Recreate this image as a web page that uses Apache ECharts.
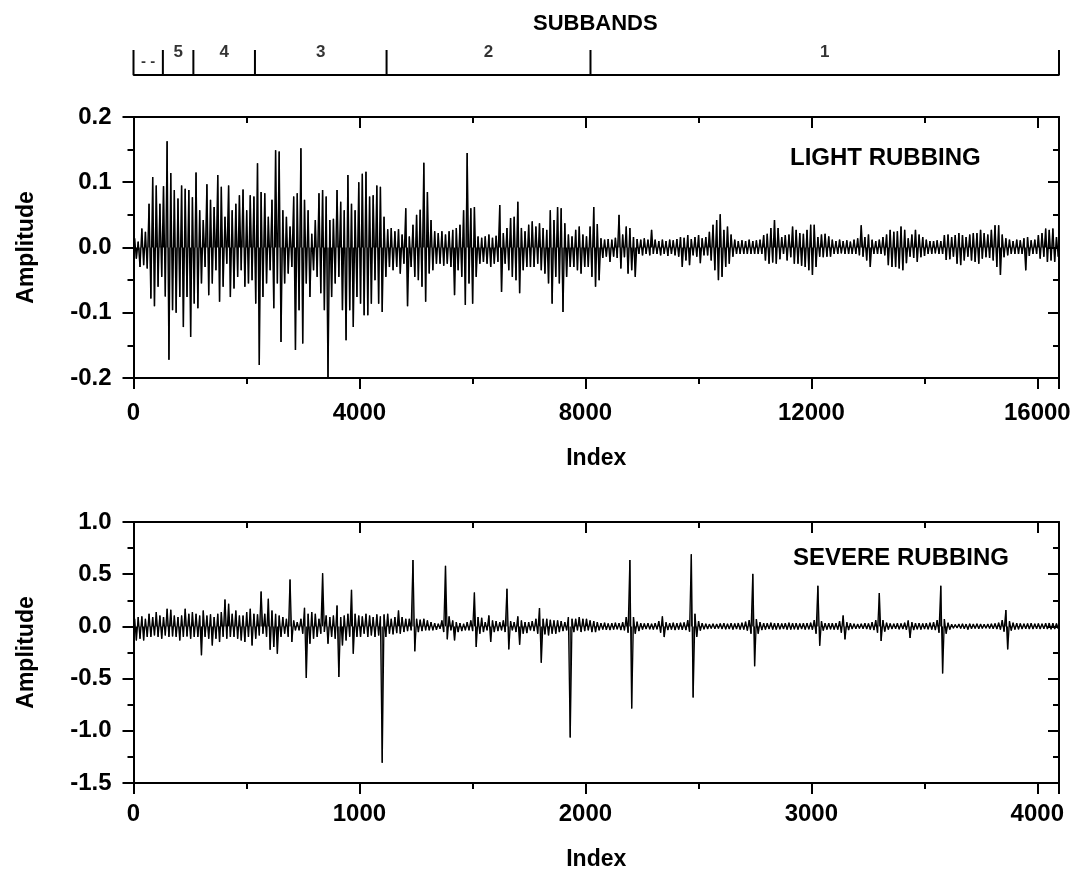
<!DOCTYPE html>
<html>
<head>
<meta charset="utf-8">
<script src="https://cdn.jsdelivr.net/npm/echarts@6/dist/echarts.min.js"></script>
<style>
html,body{margin:0;padding:0;background:#fff;}
#chart{width:1074px;height:876px;}
</style>
</head>
<body>
<div id="chart"></div>
<script>
// ---------- data ----------
const subbandEdges = [0, 520, 1060, 2150, 4480, 8090, 16384];
const subbandNames = ['- -', '5', '4', '3', '2', '1'];

const upperXTicks = [0, 4000, 8000, 12000, 16000];
const lowerXTicks = [0, 1000, 2000, 3000, 4000];

// light rubbing: per-bin (64 samples) upper / lower envelope
const lightMax = [
0.014,0.009,0.029,0.024,0.067,0.108,0.095,0.067,0.094,0.163,
0.114,0.088,0.075,0.095,0.09,0.088,0.077,0.115,0.057,0.042,
0.097,0.073,0.062,0.111,0.093,0.047,0.095,0.057,0.067,0.08,
0.089,0.057,0.08,0.078,0.129,0.085,0.083,0.047,0.073,0.149,
0.147,0.057,0.047,0.032,0.078,0.083,0.152,0.073,0.057,0.021,
0.042,0.083,0.088,0.078,0.042,0.044,0.088,0.07,0.057,0.111,
0.067,0.057,0.1,0.113,
0.116,0.078,0.08,0.095,0.093,0.047,0.028,0.03,0.025,0.028,
0.02,0.06,0.017,0.035,0.05,0.058,0.13,0.085,0.042,0.025,
0.022,0.025,0.02,0.025,0.027,0.03,0.035,0.057,0.145,0.06,
0.062,0.017,0.015,0.017,0.02,0.015,0.018,0.065,0.022,0.03,
0.045,0.047,0.07,0.03,0.025,0.035,0.04,0.032,0.037,0.03,
0.027,0.057,0.042,0.062,0.06,0.037,0.02,0.017,0.027,0.032,
0.02,0.017,0.032,0.062,
0.036,0.014,0.012,0.013,0.012,0.015,0.05,0.02,0.032,0.03,
0.016,0.013,0.012,0.014,0.012,0.027,0.012,0.01,0.012,0.01,
0.012,0.011,0.013,0.016,0.015,0.019,0.013,0.016,0.019,0.014,
0.016,0.024,0.035,0.042,0.051,0.027,0.032,0.02,0.012,0.01,
0.011,0.01,0.012,0.01,0.011,0.012,0.019,0.021,0.03,0.042,
0.03,0.016,0.019,0.02,0.032,0.027,0.022,0.021,0.027,0.035,
0.035,0.016,0.02,0.021,0.017,
0.012,0.01,0.012,0.01,0.011,0.009,0.012,0.014,0.034,0.016,
0.02,0.012,0.01,0.012,0.016,0.02,0.027,0.024,0.025,0.032,
0.027,0.014,0.02,0.027,0.02,0.016,0.012,0.01,0.01,0.011,
0.01,0.019,0.02,0.016,0.019,0.022,0.019,0.016,0.02,0.022,
0.022,0.027,0.022,0.02,0.027,0.034,0.034,0.02,0.014,0.012,
0.01,0.012,0.011,0.014,0.016,0.011,0.012,0.019,0.022,0.029,
0.027,0.029,0.016
];
const lightMin = [
-0.017,-0.03,-0.027,-0.032,-0.078,-0.09,-0.06,-0.045,-0.075,-0.172,
-0.096,-0.1,-0.076,-0.122,-0.076,-0.137,-0.086,-0.093,-0.055,-0.03,
-0.073,-0.055,-0.035,-0.083,-0.06,-0.025,-0.076,-0.063,-0.045,-0.035,
-0.06,-0.055,-0.05,-0.086,-0.18,-0.076,-0.055,-0.035,-0.093,-0.055,
-0.145,-0.055,-0.04,-0.03,-0.157,-0.096,-0.147,-0.055,-0.076,-0.035,
-0.045,-0.07,-0.096,-0.2,-0.076,-0.055,-0.045,-0.096,-0.142,-0.096,
-0.122,-0.076,-0.086,-0.104,
-0.104,-0.086,-0.05,-0.086,-0.099,-0.045,-0.03,-0.035,-0.03,-0.04,
-0.025,-0.09,-0.03,-0.045,-0.05,-0.06,-0.083,-0.04,-0.035,-0.025,
-0.025,-0.028,-0.025,-0.03,-0.073,-0.035,-0.045,-0.088,-0.055,-0.086,
-0.045,-0.025,-0.022,-0.025,-0.03,-0.025,-0.022,-0.068,-0.025,-0.035,
-0.045,-0.05,-0.07,-0.035,-0.03,-0.03,-0.03,-0.025,-0.035,-0.04,
-0.055,-0.086,-0.045,-0.055,-0.099,-0.045,-0.03,-0.03,-0.035,-0.04,
-0.03,-0.03,-0.045,-0.06,
-0.05,-0.016,-0.014,-0.022,-0.014,-0.016,-0.032,-0.015,-0.04,-0.035,
-0.045,-0.01,-0.012,-0.01,-0.012,-0.01,-0.01,-0.012,-0.01,-0.013,
-0.01,-0.012,-0.014,-0.03,-0.02,-0.027,-0.012,-0.014,-0.024,-0.012,
-0.012,-0.02,-0.035,-0.05,-0.045,-0.03,-0.025,-0.014,-0.01,-0.01,
-0.01,-0.01,-0.01,-0.01,-0.01,-0.01,-0.02,-0.025,-0.023,-0.025,
-0.018,-0.01,-0.02,-0.015,-0.025,-0.025,-0.028,-0.03,-0.035,-0.042,
-0.03,-0.014,-0.015,-0.014,-0.014,
-0.01,-0.01,-0.009,-0.01,-0.01,-0.01,-0.01,-0.012,-0.014,-0.02,
-0.03,-0.01,-0.01,-0.01,-0.012,-0.027,-0.03,-0.03,-0.032,-0.035,
-0.024,-0.014,-0.016,-0.022,-0.015,-0.013,-0.01,-0.01,-0.009,-0.01,
-0.01,-0.019,-0.018,-0.014,-0.025,-0.027,-0.02,-0.014,-0.02,-0.022,
-0.025,-0.017,-0.015,-0.016,-0.02,-0.03,-0.042,-0.015,-0.012,-0.01,
-0.01,-0.01,-0.01,-0.035,-0.013,-0.01,-0.01,-0.017,-0.014,-0.022,
-0.02,-0.022,-0.014
];

// severe rubbing: per-bin (16 samples) upper / lower envelope
const severeMax = [
0.073,0.09,0.096,0.073,0.12,0.09,0.137,0.105,0.09,0.169,
0.16,0.105,0.09,0.105,0.169,0.12,0.137,0.12,0.105,0.153,
0.105,0.115,0.09,0.12,0.137,0.258,0.217,0.12,0.153,0.105,
0.105,0.137,0.169,0.12,0.115,0.335,0.12,0.264,0.153,0.12,
0.105,0.09,0.073,0.449,0.057,0.041,0.073,0.178,0.12,0.137,
0.12,0.073,0.51,0.105,0.09,0.105,0.2,0.09,0.105,0.12,
0.35,0.12,0.105,0.096,
0.121,0.105,0.089,0.115,0.096,0.115,0.121,0.073,0.089,0.153,
0.089,0.073,0.073,0.637,0.073,0.064,0.073,0.057,0.041,0.032,
0.025,0.057,0.58,0.096,0.057,0.041,0.032,0.025,0.041,0.057,
0.325,0.089,0.083,0.041,0.105,0.057,0.051,0.041,0.057,0.36,
0.051,0.041,0.096,0.057,0.041,0.041,0.051,0.073,0.175,0.073,
0.073,0.064,0.057,0.057,0.051,0.041,0.089,0.073,0.073,0.089,
0.073,0.073,0.057,0.051,
0.041,0.032,0.035,0.028,0.03,0.035,0.032,0.04,0.09,0.637,
0.09,0.045,0.03,0.028,0.03,0.025,0.032,0.05,0.096,0.04,
0.032,0.035,0.03,0.035,0.038,0.06,0.69,0.12,0.05,0.03,
0.025,0.022,0.025,0.022,0.028,0.03,0.025,0.03,0.028,0.032,
0.035,0.045,0.06,0.503,0.07,0.04,0.032,0.03,0.035,0.03,
0.032,0.028,0.03,0.035,0.03,0.032,0.028,0.03,0.032,0.035,
0.06,0.389,0.05,0.03,0.032,0.03,
0.03,0.05,0.105,0.04,0.03,0.025,0.022,0.025,0.03,0.028,
0.04,0.06,0.32,0.06,0.035,0.028,0.025,0.03,0.028,0.035,
0.057,0.04,0.03,0.032,0.028,0.03,0.035,0.04,0.06,0.39,
0.07,0.035,0.02,0.018,0.022,0.025,0.022,0.025,0.022,0.025,
0.022,0.02,0.022,0.025,0.028,0.035,0.06,0.156,0.05,0.035,
0.03,0.028,0.025,0.028,0.03,0.025,0.028,0.025,0.03,0.032,0.03,0.028
];
const severeMin = [
-0.134,-0.118,-0.134,-0.1,-0.1,-0.086,-0.1,-0.118,-0.086,-0.1,
-0.096,-0.1,-0.134,-0.1,-0.096,-0.118,-0.1,-0.1,-0.277,-0.1,
-0.118,-0.182,-0.118,-0.15,-0.1,-0.118,-0.1,-0.1,-0.118,-0.134,
-0.15,-0.1,-0.182,-0.118,-0.086,-0.07,-0.1,-0.223,-0.198,-0.261,
-0.1,-0.07,-0.1,-0.15,-0.038,-0.038,-0.07,-0.494,-0.166,-0.118,
-0.1,-0.07,-0.054,-0.166,-0.1,-0.118,-0.484,-0.182,-0.134,-0.1,
-0.261,-0.1,-0.1,-0.07,
-0.102,-0.086,-0.102,-0.086,-1.307,-0.102,-0.07,-0.076,-0.064,-0.07,
-0.054,-0.045,-0.038,-0.239,-0.054,-0.045,-0.038,-0.038,-0.038,-0.032,
-0.022,-0.054,-0.124,-0.038,-0.134,-0.054,-0.045,-0.038,-0.038,-0.045,
-0.198,-0.07,-0.054,-0.038,-0.15,-0.054,-0.045,-0.038,-0.054,-0.22,
-0.038,-0.054,-0.175,-0.07,-0.064,-0.038,-0.045,-0.07,-0.347,-0.076,
-0.086,-0.07,-0.07,-0.054,-0.045,-0.038,-1.065,-0.054,-0.038,-0.054,
-0.045,-0.038,-0.054,-0.054,
-0.038,-0.03,-0.032,-0.035,-0.03,-0.028,-0.035,-0.038,-0.06,-0.787,
-0.07,-0.045,-0.03,-0.025,-0.028,-0.03,-0.028,-0.06,-0.102,-0.035,
-0.03,-0.035,-0.03,-0.032,-0.035,-0.05,-0.68,-0.1,-0.04,-0.028,
-0.025,-0.02,-0.022,-0.02,-0.025,-0.028,-0.025,-0.03,-0.025,-0.03,
-0.03,-0.04,-0.07,-0.382,-0.07,-0.035,-0.03,-0.025,-0.03,-0.03,
-0.028,-0.025,-0.03,-0.03,-0.028,-0.03,-0.025,-0.03,-0.028,-0.032,
-0.07,-0.185,-0.04,-0.03,-0.028,-0.03,
-0.03,-0.06,-0.124,-0.035,-0.025,-0.022,-0.02,-0.022,-0.025,-0.03,
-0.035,-0.06,-0.14,-0.05,-0.03,-0.025,-0.022,-0.028,-0.025,-0.032,
-0.11,-0.035,-0.028,-0.03,-0.025,-0.028,-0.03,-0.035,-0.06,-0.45,
-0.07,-0.03,-0.018,-0.016,-0.02,-0.022,-0.03,-0.022,-0.02,-0.022,
-0.02,-0.018,-0.02,-0.022,-0.025,-0.03,-0.05,-0.22,-0.04,-0.03,
-0.028,-0.025,-0.022,-0.025,-0.025,-0.022,-0.025,-0.022,-0.025,-0.028,-0.025,-0.022
];

const LIGHT_N = 16384, SEVERE_N = 4096;

// ---------- build ----------
// points: each bin contributes its max then its min
function binPoints(maxArr, minArr, total) {
  const n = Math.min(maxArr.length, minArr.length);
  const step = total / n;
  const d = [];
  for (let k = 0; k < n; k++) {
    d.push([k * step + step * 0.3, maxArr[k]]);
    d.push([k * step + step * 0.8, minArr[k]]);
  }
  return d;
}
const rulerData = [];
subbandEdges.forEach(e => { rulerData.push([e, 0]); rulerData.push([e, 1]); rulerData.push([e, 0]); });
const subLabelData = subbandNames.map((nm, i) => ({
  value: [(subbandEdges[i] + subbandEdges[i + 1]) / 2, 1],
  name: nm,
  label: nm === '- -' ? { offset: [0, 12], fontSize: 15 } : {}
}));

const FONT = '"Liberation Sans", Arial, Helvetica, sans-serif';
const black = '#000';
function fmtY(v) { return Math.abs(v) < 1e-9 ? '0.0' : v.toFixed(1); }

function baseAxis(extra) {
  return Object.assign({
    type: 'value',
    axisLine: { show: true, onZero: false, lineStyle: { color: black, width: 2 } },
    axisTick: { show: true, length: 11, lineStyle: { color: black, width: 2 } },
    minorTick: { show: true, splitNumber: 2, length: 6, lineStyle: { color: black, width: 2 } },
    splitLine: { show: false },
    axisLabel: { color: black, fontFamily: FONT, fontWeight: 'bold', fontSize: 24 },
    nameTextStyle: { color: black, fontFamily: FONT, fontWeight: 'bold', fontSize: 23 }
  }, extra);
}
function mirror(extra) {
  const a = baseAxis(extra);
  a.axisTick = Object.assign({}, a.axisTick, { inside: true });
  a.minorTick = Object.assign({}, a.minorTick);
  a.axisLabel = { show: false };
  return a;
}
const tickFont = { color: black, fontFamily: FONT, fontWeight: 'bold', fontSize: 24 };
function sig(xi, yi, data, w) {
  return { type: 'line', xAxisIndex: xi, yAxisIndex: yi, data: data,
    symbol: 'none', sampling: null, lineStyle: { color: black, width: w }, silent: true };
}
// each extreme also drawn as a stem back to the zero line
function stemSeries(xi, yi, data, w) {
  return {
    type: 'custom', xAxisIndex: xi, yAxisIndex: yi, data: data, silent: true, clip: true,
    encode: { x: 0, y: 1 },
    renderItem: function (params, api) {
      const p1 = api.coord([api.value(0), api.value(1)]);
      const p0 = api.coord([api.value(0), 0]);
      return { type: 'line', shape: { x1: p1[0], y1: p1[1], x2: p0[0], y2: p0[1] },
        style: { stroke: black, lineWidth: w } };
    }
  };
}

const G = { left: 133.5, right: 15 };
const option = {
  animation: false,
  backgroundColor: '#fff',
  title: [
    { text: 'SUBBANDS', left: 533, top: 13, padding: 0, textStyle: { fontFamily: FONT, fontWeight: 'bold', fontSize: 22, lineHeight: 22, color: black } },
    { text: 'LIGHT RUBBING', left: 790, top: 146, padding: 0, textStyle: { fontFamily: FONT, fontWeight: 'bold', fontSize: 24, lineHeight: 24, color: black } },
    { text: 'SEVERE RUBBING', left: 793, top: 546, padding: 0, textStyle: { fontFamily: FONT, fontWeight: 'bold', fontSize: 24, lineHeight: 24, color: black } }
  ],
  grid: [
    { left: G.left, right: G.right, top: 50, height: 25 },
    { left: G.left, right: G.right, top: 117, height: 261 },
    { left: G.left, right: G.right, top: 522, height: 261 }
  ],
  xAxis: [
    { type: 'value', gridIndex: 0, min: 0, max: LIGHT_N, show: false },
    baseAxis({ gridIndex: 1, position: 'bottom', min: 0, max: LIGHT_N, interval: 4000,
      name: 'Index', nameLocation: 'middle', nameGap: 69,
      axisLabel: Object.assign({}, tickFont, { margin: 23,
        formatter: v => upperXTicks.indexOf(v) >= 0 ? String(v) : '' }) }),
    mirror({ gridIndex: 1, position: 'top', min: 0, max: LIGHT_N, interval: 4000 }),
    baseAxis({ gridIndex: 2, position: 'bottom', min: 0, max: SEVERE_N, interval: 1000,
      name: 'Index', nameLocation: 'middle', nameGap: 65,
      axisLabel: Object.assign({}, tickFont, { margin: 19,
        formatter: v => lowerXTicks.indexOf(v) >= 0 ? String(v) : '' }) }),
    mirror({ gridIndex: 2, position: 'top', min: 0, max: SEVERE_N, interval: 1000 })
  ],
  yAxis: [
    { type: 'value', gridIndex: 0, min: 0, max: 1, show: false },
    baseAxis({ gridIndex: 1, position: 'left', min: -0.2, max: 0.2, interval: 0.1,
      name: 'Amplitude', nameLocation: 'middle', nameGap: 95,
      axisLabel: Object.assign({}, tickFont, { margin: 22, formatter: fmtY }) }),
    mirror({ gridIndex: 1, position: 'right', min: -0.2, max: 0.2, interval: 0.1 }),
    baseAxis({ gridIndex: 2, position: 'left', min: -1.5, max: 1.0, interval: 0.5,
      name: 'Amplitude', nameLocation: 'middle', nameGap: 95,
      axisLabel: Object.assign({}, tickFont, { margin: 22, formatter: fmtY }) }),
    mirror({ gridIndex: 2, position: 'right', min: -1.5, max: 1.0, interval: 0.5 })
  ],
  series: [
    { type: 'line', xAxisIndex: 0, yAxisIndex: 0, data: rulerData, symbol: 'none',
      lineStyle: { color: black, width: 2 }, silent: true },
    { type: 'scatter', xAxisIndex: 0, yAxisIndex: 0, data: subLabelData, symbolSize: 0.01,
      label: { show: true, position: 'inside', offset: [0, 2], formatter: p => p.name, color: black,
        fontFamily: FONT, fontWeight: 'bold', fontSize: 17 }, silent: true },
    sig(1, 1, binPoints(lightMax, lightMin, LIGHT_N), 1.35),
    stemSeries(1, 1, binPoints(lightMax, lightMin, LIGHT_N), 1.3),
    sig(3, 3, binPoints(severeMax, severeMin, SEVERE_N), 1.3),
    stemSeries(3, 3, binPoints(severeMax, severeMin, SEVERE_N), 1.2)
  ]
};
const chart = echarts.init(document.getElementById('chart'), null, { renderer: 'canvas' });
chart.setOption(option);
</script>
</body>
</html>
